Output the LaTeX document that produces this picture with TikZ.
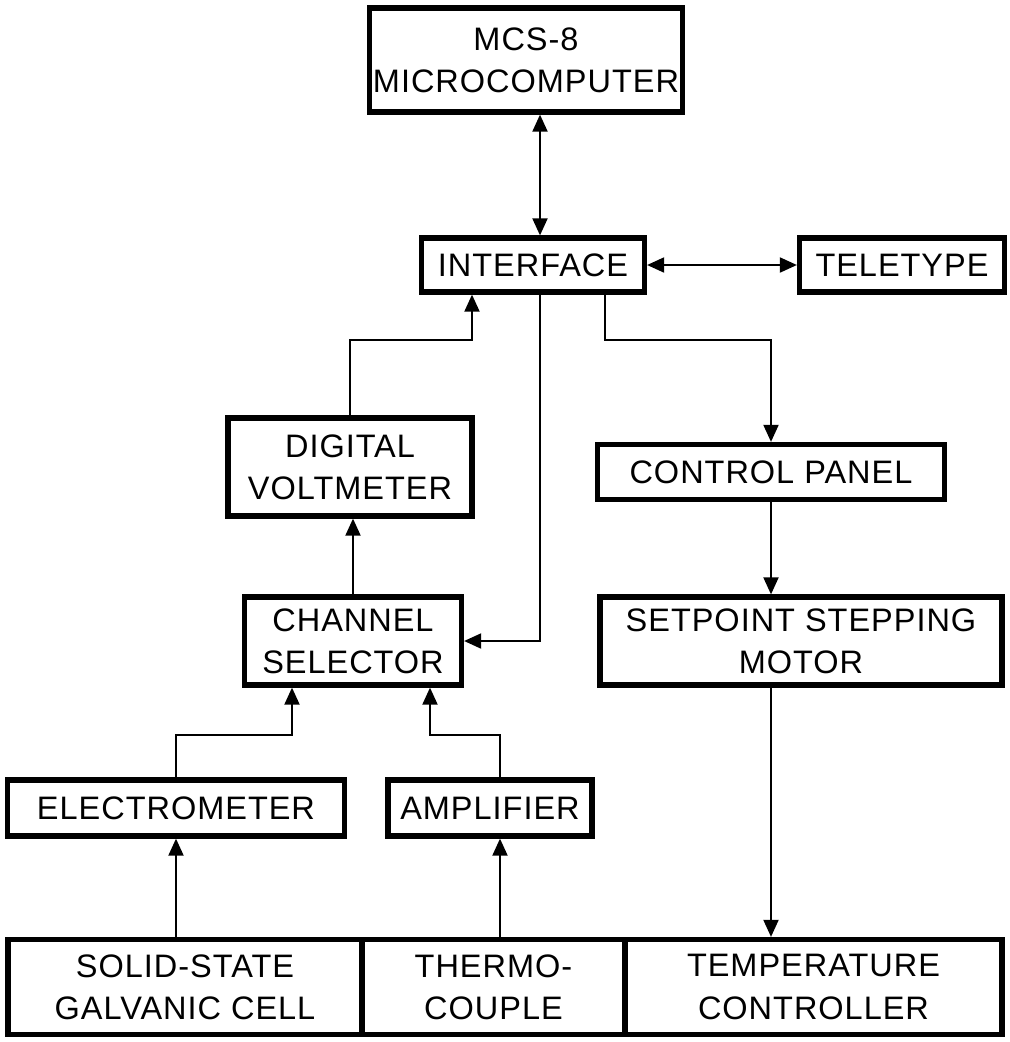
\documentclass[tikz,border=0pt]{standalone}
\usepackage{fontspec}
\setmainfont{Liberation Sans}[LetterSpace=3]
\usetikzlibrary{positioning,arrows.meta}
\tikzset{
  blk/.style={draw, line width=3pt, align=center, inner sep=2pt},
  lnk/.style={line width=1.1pt, -{Triangle[length=3.4mm, width=3mm]}},
  dlnk/.style={line width=1.1pt, {Triangle[length=3.4mm, width=3mm]}-{Triangle[length=3.4mm, width=3mm]}}}

\begin{document}
\begin{tikzpicture}[x=0.02cm, y=-0.02cm, font=\fontsize{18.5}{24}\selectfont]
\useasboundingbox (0,0) rectangle (1009,1042);
\node[blk, minimum width=6.24cm, minimum height=2.08cm] (mcs) at (526,60) {MCS-8\\MICROCOMPUTER};
\node[blk, minimum width=4.46cm, minimum height=1.08cm] (iface) at (533,265) {INTERFACE};
\node[blk, minimum width=4.1cm, minimum height=1.08cm] (tty) at (902,265) {TELETYPE};
\node[blk, minimum width=4.88cm, minimum height=1.96cm] (dvm) at (350,467) {DIGITAL\\VOLTMETER};
\node[blk, minimum width=6.94cm, minimum height=1.1cm] (cp) at (771,472) {CONTROL PANEL};
\node[blk, minimum width=4.34cm, minimum height=1.76cm] (chs) at (353,641) {CHANNEL\\SELECTOR};
\node[blk, minimum width=8.04cm, minimum height=1.76cm] (spm) at (801,641) {SETPOINT STEPPING\\MOTOR};
\node[blk, minimum width=6.74cm, minimum height=1.12cm] (elm) at (176,808) {ELECTROMETER};
\node[blk, minimum width=4.08cm, minimum height=1.12cm] (amp) at (490,808) {AMPLIFIER};
% bottom row
\node[blk, minimum width=7.08cm, minimum height=1.9cm] (gal) at (185,987) {SOLID-STATE\\GALVANIC CELL};
\node[blk, minimum width=5.26cm, minimum height=1.9cm] (thc) at (493.5,987) {THERMO-\\COUPLE};
\node[blk, minimum width=7.54cm, minimum height=1.9cm] (tmp) at (813.5,987) {TEMPERATURE\\CONTROLLER};
% bends
\coordinate (ia) at (540,0);
\coordinate (ib) at (605,340);
\coordinate (ic) at (472,340);
\coordinate (id) at (292,735);
\coordinate (ie) at (500,735);
\coordinate (ig) at (430,735);
\draw[dlnk] (mcs.south -| ia) -- (iface.north -| ia);
\draw[dlnk] (iface.east) -- (tty.west);
\draw[lnk] (iface.south -| ia) |- (chs.east);
\draw[lnk] (iface.south -| ib) -- (ib) -| (cp.north);
\draw[lnk] (dvm.north) |- (ic) -- (ic |- iface.south);
\draw[lnk] (chs.north) -- (chs.north |- dvm.south);
\draw[lnk] (cp.south) -- (cp.south |- spm.north);
\draw[lnk] (cp.south |- spm.south) -- (cp.south |- tmp.north);
\draw[lnk] (elm.north) |- (id) -- (id |- chs.south);
\draw[lnk] (ie |- amp.north) -- (ie) -- (ig) -- (ig |- chs.south);
\draw[lnk] (elm.south |- gal.north) -- (elm.south);
\draw[lnk] (ie |- thc.north) -- (ie |- amp.south);
\end{tikzpicture}
\end{document}
